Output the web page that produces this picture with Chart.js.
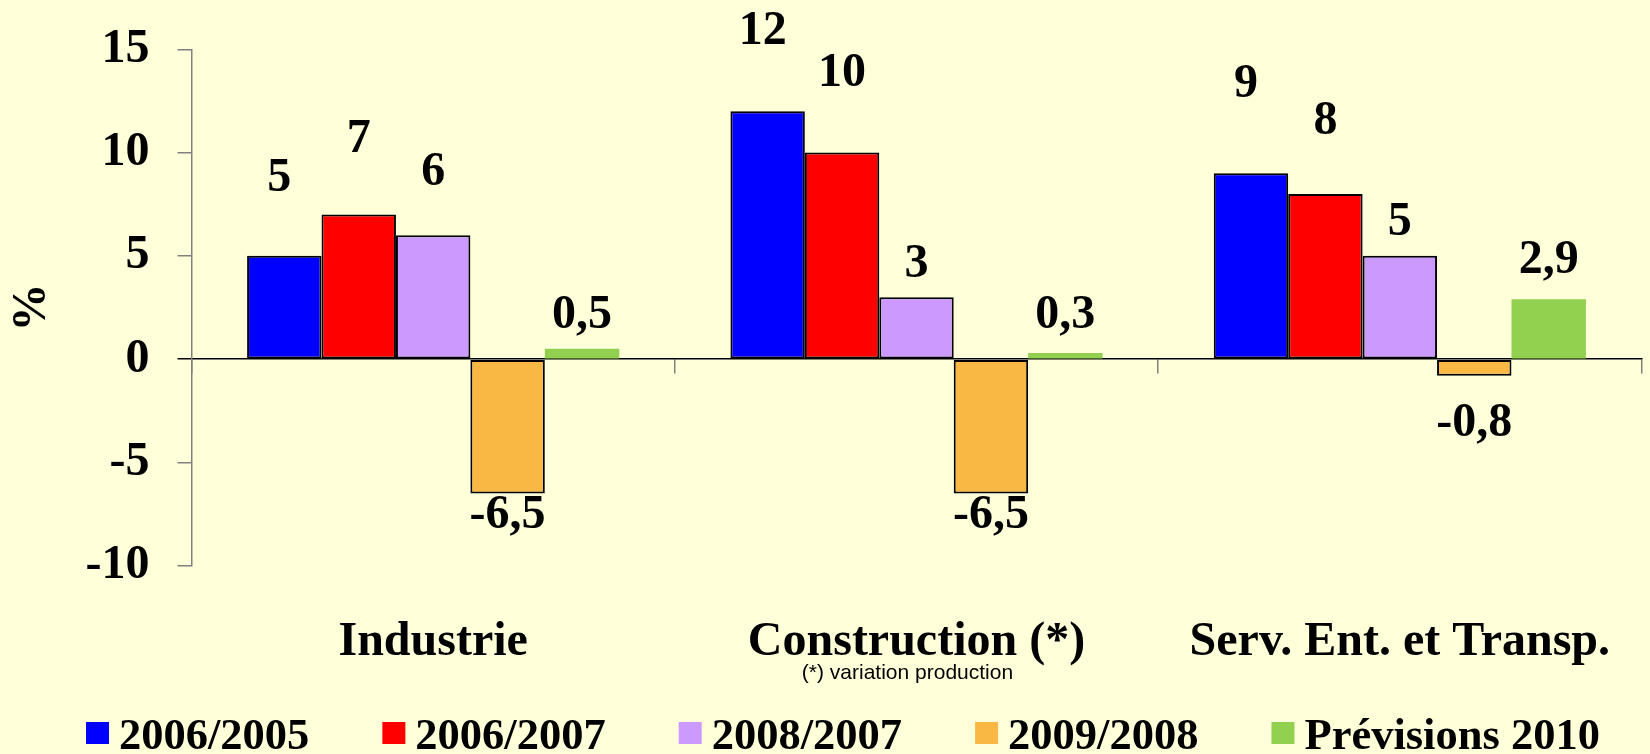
<!DOCTYPE html>
<html>
<head>
<meta charset="utf-8">
<script src="https://cdn.jsdelivr.net/npm/chart.js@4/dist/chart.umd.min.js"></script>
<style>
  html, body { margin: 0; padding: 0; background: #FFFFDA; }
  #box { width: 1650px; height: 754px; position: relative; }
</style>
</head>
<body>
<div id="box"><canvas id="grafico"></canvas></div>
<script>
// données
const categories = ['Industrie', 'Construction (*)', 'Serv. Ent. et Transp.']
const series = ['2006/2005', '2006/2007', '2008/2007', '2009/2008', 'Prévisions 2010']
const v2006_2005 = [5, 12, 9]
const v2006_2007 = [7, 10, 8]
const v2008_2007 = [6, 3, 5]
const v2009_2008 = [-6.5, -6.5, -0.8]
const prev2010 = [0.5, 0.3, 2.9]
const yMin = -10
const yMax = 15
const yStep = 5
const footnote = '(*) variation production'

const serif = "'Liberation Serif', 'Times New Roman', serif"
const couleurs = ['#0000FF', '#FF0000', '#CC99FF', '#F9B843', '#92D050']
const valeurs = [v2006_2005, v2006_2007, v2008_2007, v2009_2008, prev2010]

// décalage vertical (px) du centre des étiquettes par rapport au bout de barre
const decalages = [
    [-77, -80, -89],
    [-75, -79, -72],
    [-63, -33, -33],
    [22, 22, 48],
    [-33, -37, -39]
]

const etiquettes = {
    id: 'etiquettes',
    afterDatasetsDraw(chart) {
        const ctx = chart.ctx
        ctx.save()
        ctx.font = `bold 48px ${serif}`
        ctx.fillStyle = '#000'
        ctx.textAlign = 'center'
        ctx.textBaseline = 'middle'
        chart.data.datasets.forEach((ds, i) => {
            chart.getDatasetMeta(i).data.forEach((bar, j) => {
                const v = ds.data[j]
                const texte = String(v).replace('.', ',')
                // les étiquettes de la 1re série sont un peu décalées à gauche
                const dx = i === 0 ? -5 : 0
                ctx.fillText(texte, bar.x + dx, bar.y + decalages[i][j])
            })
        })
        ctx.restore()
    }
}

const legende = {
    id: 'legende',
    afterDraw(chart) {
        const ctx = chart.ctx
        ctx.save()
        ctx.font = `bold 44.5px ${serif}`
        ctx.textBaseline = 'alphabetic'
        ctx.textAlign = 'left'
        let x = 86
        chart.data.datasets.forEach(ds => {
            ctx.fillStyle = ds.backgroundColor
            ctx.fillRect(x, 722, 23, 22)
            x += 33
            ctx.fillStyle = '#000'
            ctx.fillText(ds.label, x, 749)
            x += ctx.measureText(ds.label).width + 73
        })
        // note sous Construction
        ctx.font = "21px 'Liberation Sans', Arial, sans-serif"
        ctx.textAlign = 'center'
        ctx.fillText(footnote, chart.scales.x.getPixelForValue(1) - 9, 679)
        ctx.restore()
    }
}

const ctx = document.getElementById('grafico').getContext('2d')
const myChart = new Chart(ctx, {
    type: 'bar',
    data: {
        labels: categories,
        datasets: series.map((nom, i) => ({
            label: nom,
            data: valeurs[i],
            backgroundColor: couleurs[i],
            borderColor: '#000',
            borderWidth: i === 4 ? 0 : 2,
            borderSkipped: false,
            categoryPercentage: 0.77,
            barPercentage: 1.0
        }))
    },
    options: {
        responsive: true,
        maintainAspectRatio: false,
        animation: false,
        layout: { padding: { left: 0, right: 8.5, top: 49.3, bottom: 0 } },
        plugins: {
            legend: { display: false },
            tooltip: { enabled: false }
        },
        scales: {
            x: {
                grid: { display: false },
                border: { display: false },
                ticks: {
                    color: '#000',
                    padding: 40,
                    maxRotation: 0,
                    font: { family: serif, size: 48, weight: 'bold' }
                },
                afterFit: s => { s.height = 188.3; s.paddingLeft = 0; s.paddingRight = 0 }
            },
            x2: {
                type: 'category',
                position: { y: 0 },
                offset: true,
                grid: { offset: true, drawOnChartArea: false, tickLength: 14, color: '#808080', lineWidth: 1.5 },
                border: { color: '#000', width: 1.5 },
                ticks: { display: false },
                afterFit: s => { s.paddingLeft = 0; s.paddingRight = 0 }
            },
            y: {
                min: yMin,
                max: yMax,
                ticks: {
                    stepSize: yStep,
                    color: '#000',
                    padding: 28,
                    font: { family: serif, size: 48, weight: 'bold' }
                },
                grid: {
                    drawOnChartArea: false,
                    tickLength: 14,
                    lineWidth: 1.5,
                    color: c => (c.tick && c.tick.value === 0 ? '#000' : '#808080')
                },
                border: { color: '#808080', width: 1.5 },
                title: {
                    display: true,
                    text: '%',
                    color: '#000',
                    padding: { top: 4, bottom: 0 },
                    font: { family: serif, size: 48, weight: 'bold' }
                },
                afterFit: s => { s.width = 191.5; s.paddingTop = 0; s.paddingBottom = 0 }
            }
        }
    },
    plugins: [etiquettes, legende]
})
</script>
</body>
</html>
